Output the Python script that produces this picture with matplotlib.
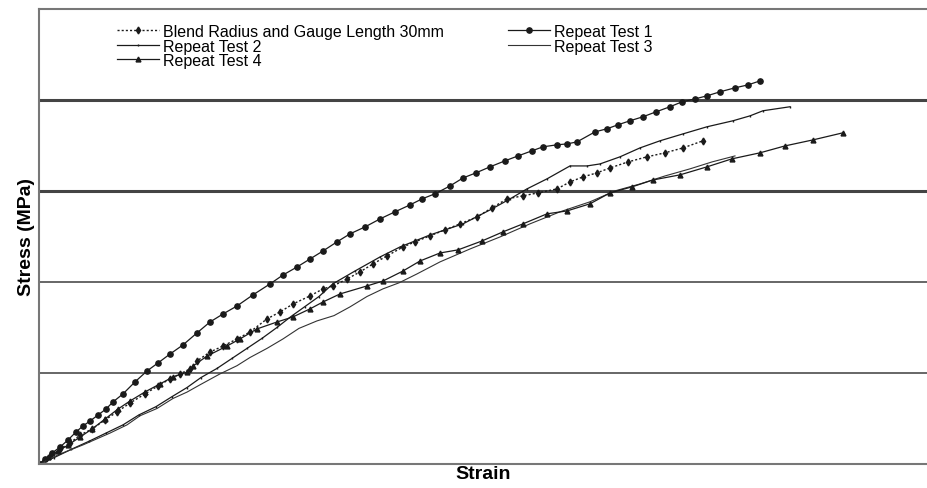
import matplotlib.pyplot as plt

plt.rcParams['font.family'] = ['Liberation Sans', 'DejaVu Sans']

# Strain (%) and stress (MPa)
blend_strain = [0, 0.11, 0.21, 0.31, 0.41, 0.53, 0.66, 0.78, 0.91, 1.06, 1.19, 1.31, 1.41, 1.51,
                1.58, 1.71, 1.84, 1.98, 2.11, 2.28, 2.41, 2.54, 2.71, 2.84, 2.94, 3.08, 3.21, 3.34,
                3.48, 3.64, 3.76, 3.91, 4.06, 4.21, 4.38, 4.53, 4.68, 4.84, 4.99, 5.18, 5.31, 5.44,
                5.58, 5.71, 5.89, 6.08, 6.26, 6.44, 6.64]
blend_stress = [0, 4.4, 8.2, 11.5, 15.9, 19.2, 24.2, 28.6, 33.5, 38.5, 42.9, 46.7, 49.5, 52.2,
                56.6, 61.5, 64.8, 68.7, 72.5, 79.7, 83.5, 87.9, 92.3, 96.2, 97.8, 101.6, 105.5, 109.9,
                114.3, 119.2, 122.0, 125.3, 128.6, 131.9, 135.7, 140.7, 145.6, 147.3, 148.9, 151.1, 154.9, 157.7,
                159.9, 162.6, 165.9, 168.7, 170.9, 173.6, 177.5]

test1_strain = [0, 0.06, 0.13, 0.21, 0.29, 0.37, 0.44, 0.51, 0.59, 0.67, 0.74, 0.84, 0.96, 1.08,
                1.19, 1.31, 1.44, 1.58, 1.71, 1.84, 1.98, 2.14, 2.31, 2.44, 2.58, 2.71, 2.84, 2.98,
                3.11, 3.26, 3.41, 3.56, 3.71, 3.83, 3.96, 4.11, 4.24, 4.37, 4.51, 4.66, 4.79, 4.93,
                5.04, 5.18, 5.28, 5.38, 5.56, 5.68, 5.79, 5.91, 6.04, 6.17, 6.31, 6.43, 6.56, 6.68,
                6.81, 6.96, 7.09, 7.21]
test1_stress = [0, 2.7, 6.0, 9.3, 13.2, 17.6, 20.9, 23.6, 26.9, 30.2, 34.1, 38.5, 45.1, 51.1,
                55.5, 60.4, 65.4, 72.0, 78.0, 82.4, 86.8, 92.9, 98.9, 103.8, 108.2, 112.6, 117.0, 122.0,
                126.4, 130.2, 134.6, 138.5, 142.3, 145.6, 148.4, 152.7, 157.1, 159.9, 163.2, 166.5, 169.2, 172.0,
                174.2, 175.3, 175.8, 176.9, 182.4, 184.1, 186.3, 188.5, 190.7, 193.4, 196.2, 198.9, 200.5, 202.2,
                204.4, 206.6, 208.2, 210.4]

test2_strain = [0, 0.15, 0.32, 0.5, 0.67, 0.84, 1.0, 1.17, 1.33, 1.48, 1.62, 1.78, 1.93, 2.08,
                2.23, 2.38, 2.52, 2.66, 2.8, 2.94, 3.16, 3.41, 3.61, 3.91, 4.24, 4.53, 4.71, 4.88,
                5.08, 5.31, 5.48, 5.61, 5.81, 6.01, 6.21, 6.44, 6.68, 6.94, 7.11, 7.24, 7.51]
test2_stress = [0, 3.5, 8.0, 12.5, 17.0, 21.5, 27.0, 31.5, 37.0, 42.0, 47.5, 52.5, 58.0, 63.5,
                69.0, 75.0, 81.0, 86.5, 92.0, 99.0, 106.0, 113.7, 119.2, 125.8, 131.9, 140.1, 145.6, 151.1,
                156.6, 163.7, 163.7, 164.8, 168.7, 173.6, 177.5, 181.3, 185.2, 188.5, 191.2, 194.0, 196.2]

test3_strain = [0, 0.21, 0.44, 0.71, 0.88, 1.01, 1.18, 1.34, 1.48, 1.61, 1.81, 1.98, 2.11, 2.28,
                2.44, 2.6, 2.78, 2.95, 3.11, 3.28, 3.44, 3.6, 3.78, 4.01, 4.31, 4.61, 4.91, 5.21,
                5.51, 5.76, 6.01, 6.26, 6.51, 6.73, 6.96]
test3_stress = [0, 5.5, 10.5, 17.0, 21.5, 26.5, 30.5, 36.0, 39.5, 43.5, 49.5, 54.0, 58.5, 63.5,
                68.7, 74.5, 78.6, 81.5, 86.3, 92.0, 96.2, 99.5, 104.4, 111.0, 118.1, 124.7, 131.9, 138.5,
                144.0, 150.0, 153.8, 158.2, 162.1, 165.9, 169.2]

test4_strain = [0, 0.09, 0.19, 0.29, 0.41, 0.53, 0.66, 0.79, 0.91, 1.06, 1.21, 1.34, 1.48, 1.54,
                1.68, 1.88, 2.01, 2.18, 2.38, 2.54, 2.71, 2.84, 3.01, 3.28, 3.44, 3.64, 3.81, 4.01,
                4.19, 4.43, 4.64, 4.84, 5.08, 5.28, 5.51, 5.71, 5.93, 6.14, 6.41, 6.68, 6.93, 7.21,
                7.46, 7.74, 8.04]
test4_stress = [0, 3.8, 7.1, 10.4, 14.8, 19.2, 24.7, 30.2, 34.6, 39.6, 44.0, 47.8, 50.5, 53.8,
                59.3, 64.8, 68.7, 74.2, 78.0, 80.8, 85.2, 89.0, 93.4, 97.8, 100.5, 106.0, 111.5, 115.9,
                117.6, 122.5, 127.5, 131.9, 137.4, 139.0, 142.9, 148.9, 152.2, 156.0, 158.8, 163.2, 167.6, 170.9,
                174.7, 178.0, 181.9]

grid_levels = [50, 100, 150, 200]

fig = plt.figure(figsize=(9.28, 4.89), dpi=100)
ax = fig.add_axes([0.042, 0.049, 0.958, 0.931])

line_col = '#1a1a1a'
h_blend, = ax.plot(blend_strain, blend_stress, linestyle=(0, (1.5, 1.5)), color=line_col, lw=1.0,
                   marker='d', ms=3.5, label='Blend Radius and Gauge Length 30mm')
h1, = ax.plot(test1_strain, test1_stress, '-', color=line_col, lw=0.9,
              marker='o', ms=3.8, label='Repeat Test 1')
h2, = ax.plot(test2_strain, test2_stress, '-', color=line_col, lw=0.9,
              marker='|', ms=2, label='Repeat Test 2')
h3, = ax.plot(test3_strain, test3_stress, '-', color='#333333', lw=0.8, label='Repeat Test 3')
h4, = ax.plot(test4_strain, test4_stress, '-', color=line_col, lw=0.9,
              marker='^', ms=3.5, label='Repeat Test 4')

for lev in grid_levels:
    ax.axhline(lev, color='#444444' if lev > 100 else '#666666',
               lw=2.2 if lev > 100 else 1.4, zorder=0)

ax.set_xlim(0, 8.89)
ax.set_ylim(0, 250)
ax.set_xticks([])
ax.set_yticks([])
for side in ['left', 'bottom', 'top']:
    ax.spines[side].set_color('#777777')
    ax.spines[side].set_linewidth(1.5)
ax.spines['right'].set_visible(False)

ax.set_xlabel('Strain', fontsize=14, fontweight='bold', labelpad=1)
ax.set_ylabel('Stress (MPa)', fontsize=14, fontweight='bold', labelpad=3)

# two separate legend blocks, laid out row by row like the original
leg_kw = dict(frameon=False, fontsize=11.5, loc='upper left', bbox_transform=fig.transFigure,
              handlelength=2.6, handletextpad=0.25, labelspacing=-0.03,
              borderpad=0, borderaxespad=0)
leg1 = ax.legend([h_blend, h2, h4], [h.get_label() for h in (h_blend, h2, h4)],
                 bbox_to_anchor=(117 / 928, 1 - 25 / 489), **leg_kw)
ax.add_artist(leg1)
ax.legend([h1, h3], [h.get_label() for h in (h1, h3)],
          bbox_to_anchor=(508 / 928, 1 - 25 / 489), **leg_kw)

fig.savefig('out.png', dpi=100)
